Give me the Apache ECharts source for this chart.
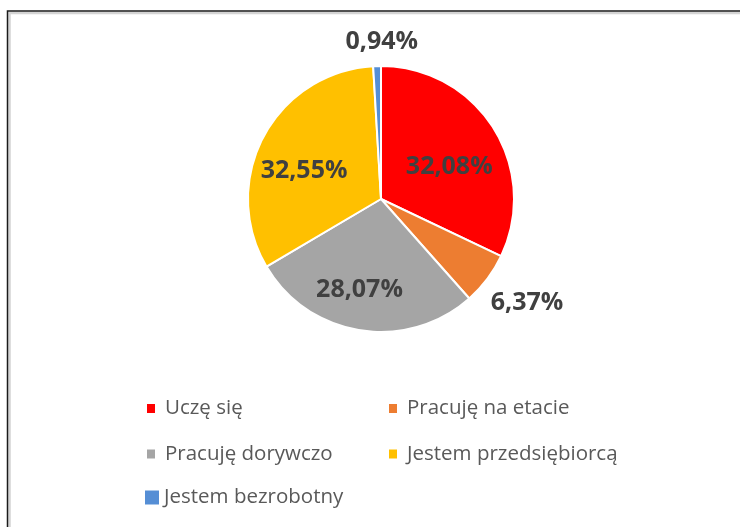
<!DOCTYPE html>
<html>
<head>
<meta charset="utf-8">
<script src="https://cdn.jsdelivr.net/npm/echarts@6/dist/echarts.min.js"></script>
<style>
html,body{margin:0;padding:0;background:#fff;}
#chart{width:740px;height:527px;}
</style>
</head>
<body>
<div id="chart"></div>
<script>
const categories = ['Uczę się', 'Pracuję na etacie', 'Pracuję dorywczo', 'Jestem przedsiębiorcą', 'Jestem bezrobotny'];
const values = [32.08, 6.37, 28.07, 32.55, 0.94];
const colors = ['#FF0000', '#ED7D31', '#A5A5A5', '#FFC000', '#558ED5'];

const chart = echarts.init(document.getElementById('chart'));

const labelShift = [[9.5, 4.5], [-1.5, 24], [-10.7, 22], [-15.6, 5], [46, -24]];
const outside = [false, true, false, false, true];

const legendText = {fontFamily: 'Open Sans', fontSize: 20.5, color: '#595959', lineHeight: 20, padding: [0, 0, 0, 5]};
const legendItem = {borderWidth: 0};

const option = {
  animation: false,
  backgroundColor: '#ffffff',
  color: colors,
  graphic: [
    {type: 'rect', shape: {x: 9.5, y: 13, width: 800, height: 600}, style: {fill: 'none', stroke: '#d4d4d4', lineWidth: 2.5}},
    {type: 'rect', shape: {x: 7.5, y: 11, width: 800, height: 600}, style: {fill: 'none', stroke: '#1a1a1a', lineWidth: 1.5}}
  ],
  legend: [
    {
      data: [categories[0], categories[2]],
      orient: 'vertical', left: 147, top: 398, padding: 0,
      itemWidth: 8, itemHeight: 9, itemGap: 24.5, icon: 'rect',
      itemStyle: legendItem,
      textStyle: legendText
    },
    {
      data: [categories[1], categories[3]],
      orient: 'vertical', left: 389, top: 398, padding: 0,
      itemWidth: 8, itemHeight: 9, itemGap: 24.5, icon: 'rect',
      itemStyle: legendItem,
      textStyle: legendText
    },
    {
      data: [categories[4]],
      orient: 'vertical', left: 145, top: 487, padding: 0,
      itemWidth: 14, itemHeight: 14, icon: 'rect',
      itemStyle: legendItem,
      textStyle: Object.assign({}, legendText, {padding: [0, 0, 0, 0]})
    }
  ],
  series: [{
    type: 'pie',
    center: [381, 199],
    radius: 133,
    startAngle: 90,
    clockwise: true,
    avoidLabelOverlap: false,
    itemStyle: {borderColor: '#ffffff', borderWidth: 2},
    labelLine: {show: false, length: 0, length2: 0},
    label: {
      fontFamily: 'Open Sans', fontWeight: 'bold', fontSize: 25, color: '#404040',
      formatter: p => p.value.toFixed(2).replace('.', ',') + '%'
    },
    labelLayout: p => ({dx: labelShift[p.dataIndex][0], dy: labelShift[p.dataIndex][1]}),
    emphasis: {disabled: true},
    data: categories.map((c, i) => ({
      name: c,
      value: values[i],
      label: {position: outside[i] ? 'outside' : 'inside'}
    }))
  }]
};
chart.setOption(option);
</script>
</body>
</html>
